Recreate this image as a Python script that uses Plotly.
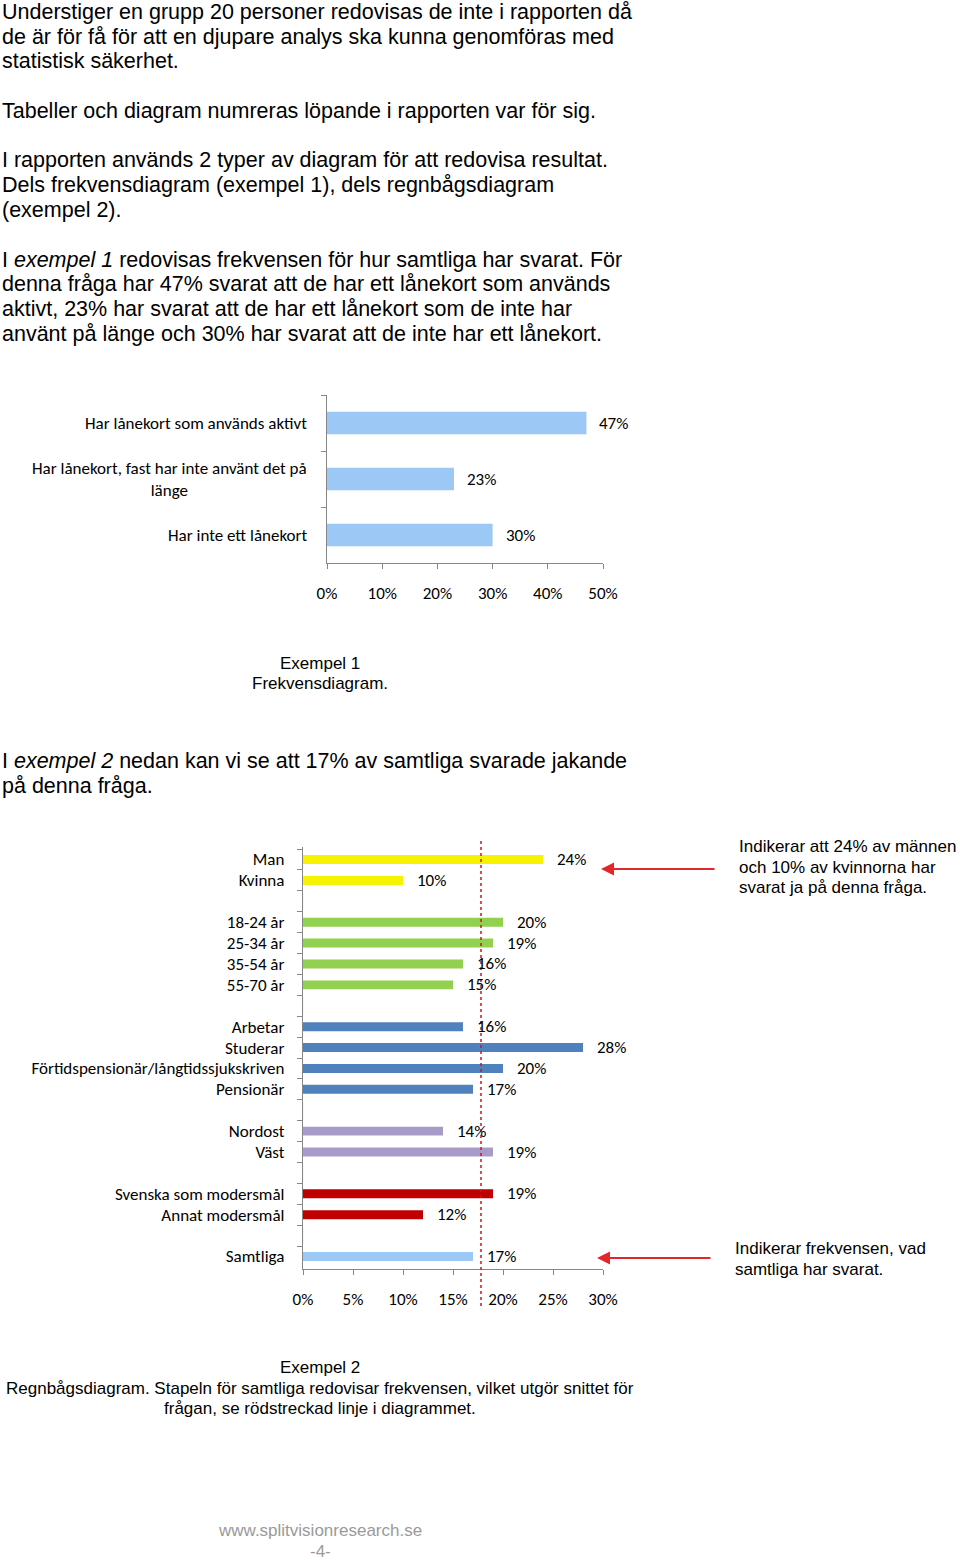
import plotly.graph_objects as go

W, H = 960, 1560

# ---------------- Data ----------------
# Example 1 (frekvensdiagram)
ex1_categories = [
    "Har lånekort som används aktivt",
    "Har lånekort, fast har inte använt det på<br>länge",
    "Har inte ett lånekort",
]
ex1_values = [0.47, 0.23, 0.30]
ex1_ticks = [0, 0.1, 0.2, 0.3, 0.4, 0.5]

# Example 2 (regnbågsdiagram)
ex2_gender = ["Man", "Kvinna"]
ex2_gender_values = [0.24, 0.10]
ex2_age = ["18-24 år", "25-34 år", "35-54 år", "55-70 år"]
ex2_age_values = [0.20, 0.19, 0.16, 0.15]
ex2_occupation = ["Arbetar", "Studerar", "Förtidspensionär/långtidssjukskriven", "Pensionär"]
ex2_occupation_values = [0.16, 0.28, 0.20, 0.17]
ex2_region = ["Nordost", "Väst"]
ex2_region_values = [0.14, 0.19]
ex2_language = ["Svenska som modersmål", "Annat modersmål"]
ex2_language_values = [0.19, 0.12]
ex2_total = ["Samtliga"]
ex2_total_values = [0.17]
ex2_average = 0.178
ex2_ticks = [0, 0.05, 0.10, 0.15, 0.20, 0.25, 0.30]

# ---------------- Styling ----------------
BODY = "Liberation Sans, Arial, sans-serif"
CHART = "Carlito, Lato, sans-serif"
AXIS = "#878787"
LIGHTBLUE = "#9CC8F6"
ex2_colors = ["#F6F200", "#92D050", "#4F81BD", "#A99BC9", "#C00000", LIGHTBLUE]
CHART_SIZE = 17


def px(p):
    return p / W


def py(p):
    return 1 - p / H


fig = go.Figure()

# ---- Chart 1 ----
fig.add_trace(go.Bar(
    x=ex1_values, y=ex1_categories, orientation="h",
    marker=dict(color=LIGHTBLUE, line=dict(width=0)), width=0.4,
    xaxis="x", yaxis="y", showlegend=False, hoverinfo="skip",
))

# ---- Chart 2 ----
groups = [
    (ex2_gender, ex2_gender_values),
    (ex2_age, ex2_age_values),
    (ex2_occupation, ex2_occupation_values),
    (ex2_region, ex2_region_values),
    (ex2_language, ex2_language_values),
    (ex2_total, ex2_total_values),
]
order = []
spacers = []
for i, (cats, vals) in enumerate(groups):
    if i > 0:
        s = " " * i
        spacers.append(s)
        order.append(s)
    order.extend(cats)
    fig.add_trace(go.Bar(
        x=vals, y=cats, orientation="h",
        marker=dict(color=ex2_colors[i], line=dict(width=0)), width=0.43,
        xaxis="x2", yaxis="y2", showlegend=False, hoverinfo="skip",
    ))
fig.add_trace(go.Bar(
    x=[0] * len(spacers), y=spacers, orientation="h",
    marker=dict(color="rgba(0,0,0,0)"), xaxis="x2", yaxis="y2",
    showlegend=False, hoverinfo="skip",
))

annotations = []

# value labels
for c, v in zip(ex1_categories, ex1_values):
    annotations.append(dict(x=v, y=c, xref="x", yref="y", text=f"{round(v*100)}%",
                            showarrow=False, xanchor="left", xshift=11,
                            font=dict(family=CHART, size=CHART_SIZE, color="#000")))
    annotations.append(dict(x=px(309), y=c, xref="paper", yref="y", text=c,
                            showarrow=False, xanchor="right", align="center",
                            font=dict(family=CHART, size=CHART_SIZE, color="#000")))
for cats, vals in groups:
    for c, v in zip(cats, vals):
        annotations.append(dict(x=v, y=c, xref="x2", yref="y2", text=f"{round(v*100)}%",
                                showarrow=False, xanchor="left", xshift=12,
                                font=dict(family=CHART, size=CHART_SIZE, color="#000")))

# body text lines
body_lines = [
    (12, "Understiger en grupp 20 personer redovisas de inte i rapporten då"),
    (37, "de är för få för att en djupare analys ska kunna genomföras med"),
    (61, "statistisk säkerhet."),
    (111, "Tabeller och diagram numreras löpande i rapporten var för sig."),
    (160, "I rapporten används 2 typer av diagram för att redovisa resultat."),
    (185, "Dels frekvensdiagram (exempel 1), dels regnbågsdiagram"),
    (210, "(exempel 2)."),
    (260, "I <i>exempel 1</i> redovisas frekvensen för hur samtliga har svarat. För"),
    (284, "denna fråga har 47% svarat att de har ett lånekort som används"),
    (309, "aktivt, 23% har svarat att de har ett lånekort som de inte har"),
    (334, "använt på länge och 30% har svarat att de inte har ett lånekort."),
    (761, "I <i>exempel 2</i> nedan kan vi se att 17% av samtliga svarade jakande"),
    (786, "på denna fråga."),
]
for yy, t in body_lines:
    annotations.append(dict(x=0, y=py(yy), xref="paper", yref="paper", text=t,
                            showarrow=False, xanchor="left", yanchor="middle",
                            font=dict(family=BODY, size=21.5, color="#000")))

center_lines = [
    (663, "Exempel 1", "#000"),
    (683, "Frekvensdiagram.", "#000"),
    (1367, "Exempel 2", "#000"),
    (1388, "Regnbågsdiagram. Stapeln för samtliga redovisar frekvensen, vilket utgör snittet för", "#000"),
    (1408, "frågan, se rödstreckad linje i diagrammet.", "#000"),
    (1530, "www.splitvisionresearch.se", "#9A9A9A"),
    (1551, "-4-", "#9A9A9A"),
]
for yy, t, col in center_lines:
    annotations.append(dict(x=px(320), y=py(yy), xref="paper", yref="paper", text=t,
                            showarrow=False, xanchor="center", yanchor="middle",
                            font=dict(family=BODY, size=17, color=col)))

side_lines = [
    (737, 847, "Indikerar att 24% av männen"),
    (737, 867, "och 10% av kvinnorna har"),
    (737, 887, "svarat ja på denna fråga."),
    (733, 1248, "Indikerar frekvensen, vad"),
    (733, 1269, "samtliga har svarat."),
]
for xx, yy, t in side_lines:
    annotations.append(dict(x=px(xx), y=py(yy), xref="paper", yref="paper", text=t,
                            showarrow=False, xanchor="left", yanchor="middle",
                            font=dict(family=BODY, size=17, color="#000")))

# arrows
for (x0, x1, yy) in [(716, 601, 869), (712, 597, 1258)]:
    annotations.append(dict(x=px(x1), y=py(yy), xref="paper", yref="paper",
                            ax=x0 - x1, ay=0, axref="pixel", ayref="pixel",
                            text="", showarrow=True, arrowhead=2, arrowsize=1.3,
                            arrowwidth=2, arrowcolor="#E3262B"))

axis_common = dict(showline=True, linecolor=AXIS, linewidth=1.3, ticks="outside",
                   ticklen=5, tickcolor=AXIS, tickwidth=1.3, showgrid=False,
                   zeroline=False, fixedrange=True, automargin=False,
                   tickfont=dict(family=CHART, size=CHART_SIZE, color="#000"))

fig.update_layout(
    width=W, height=H,
    margin=dict(l=0, r=0, t=0, b=0, autoexpand=False),
    paper_bgcolor="white", plot_bgcolor="white",
    barmode="overlay",
    xaxis=dict(domain=[px(327), px(603)], range=[0, 0.5], tickvals=ex1_ticks,
               tickformat=".0%", anchor="y", ticklabelstandoff=9, **axis_common),
    yaxis=dict(domain=[py(563), py(395)], categoryorder="array",
               categoryarray=ex1_categories, autorange="reversed",
               tickson="boundaries", showticklabels=False, anchor="x", **axis_common),
    xaxis2=dict(domain=[px(303), px(603)], range=[0, 0.30], tickvals=ex2_ticks,
                tickformat=".0%", anchor="y2", ticklabelstandoff=9, **axis_common),
    yaxis2=dict(domain=[py(1269), py(847)], categoryorder="array",
                categoryarray=order, autorange="reversed", tickson="boundaries",
                anchor="x2", ticklabelstandoff=14, **axis_common),
    shapes=[dict(type="line", xref="x2", yref="paper", x0=ex2_average, x1=ex2_average,
                 y0=py(1306), y1=py(838), line=dict(color="#D0141B", width=1.5, dash="dot"))],
    annotations=annotations,
)

fig.write_html(
    "out.html",
    config={"responsive": False, "displayModeBar": False},
    post_script="document.body.style.margin='0';document.body.style.padding='0';"
                "document.documentElement.style.overflow='hidden';",
)
